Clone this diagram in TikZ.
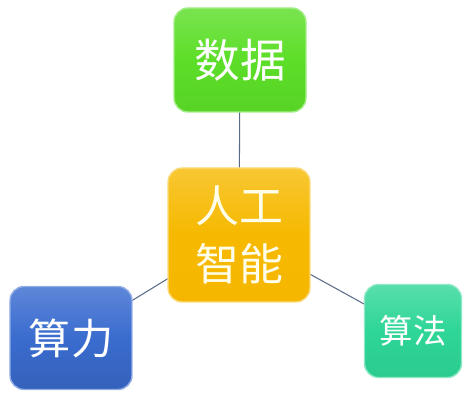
\documentclass[tikz,border=0pt]{standalone}
\usepackage{fontspec}
\newfontfamily\cjk{Noto Sans CJK SC}
\usetikzlibrary{positioning}
\definecolor{datagreen}{HTML}{5CDE28}
\definecolor{aiyellow}{HTML}{F6B900}
\definecolor{powerblue}{HTML}{3A6CCF}
\definecolor{algoteal}{HTML}{2ED696}
\definecolor{linkgray}{HTML}{5A6B88}

\begin{document}
\begin{tikzpicture}[
    tile/.style={rounded corners=8pt, align=center, inner sep=0pt, text=white, font=\cjk},
    datatile/.style={tile, top color=datagreen!82!white, bottom color=datagreen!95!black, middle color=datagreen, draw=datagreen!55!white, line width=0.8pt, minimum width=2.64cm, minimum height=2.08cm, font=\cjk\fontsize{26}{30}\selectfont},
    aitile/.style={tile, top color=aiyellow!80!white, bottom color=aiyellow!95!orange, middle color=aiyellow, draw=aiyellow!50!white, line width=0.8pt, minimum width=2.84cm, minimum height=2.68cm, text=white!92!yellow, font=\cjk\fontsize{25}{33}\selectfont},
    powertile/.style={tile, top color=powerblue!82!white, bottom color=powerblue!90!black, middle color=powerblue, draw=powerblue!55!white, line width=0.8pt, minimum width=2.44cm, minimum height=2.06cm, font=\cjk\fontsize{24}{28}\selectfont},
    algotile/.style={tile, top color=algoteal!80!white, bottom color=algoteal!95!black, middle color=algoteal, draw=algoteal!55!white, line width=0.8pt, minimum width=1.94cm, minimum height=1.86cm, font=\cjk\fontsize{19}{23}\selectfont},
    link/.style={draw=linkgray, line width=0.6pt},
]
    \useasboundingbox (0,0) rectangle (9.5,-8);

    % === CONNECTORS (drawn first, tiles on top) ===
    \coordinate (dataC) at (4.80,-1.20);
    \coordinate (aiC) at (4.78,-4.70);
    \coordinate (powerC) at (1.42,-6.76);
    \coordinate (algoC) at (8.26,-6.62);
    \draw[link] (dataC) -- (aiC);
    \draw[link] (aiC) -- (powerC);
    \draw[link] (aiC) -- (algoC);

    % === TILES ===
    \node[datatile] (data) at (dataC) {数据};
    \node[aitile] (ai) at (aiC) {人工\\智能};
    \node[powertile] (power) at (powerC) {算力};
    \node[algotile] (algo) at (algoC) {算法};
\end{tikzpicture}
\end{document}
